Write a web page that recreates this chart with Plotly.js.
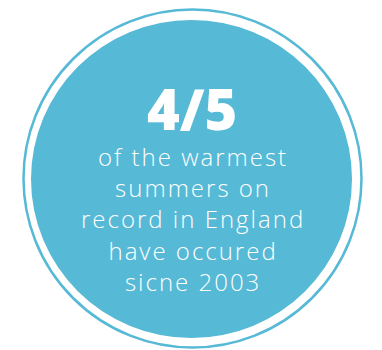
<!DOCTYPE html>
<html>
<head>
<meta charset="utf-8">
<script src="https://cdn.plot.ly/plotly-3.0.1.min.js"></script>
<style>
html,body{margin:0;padding:0;background:#fff;}
#chart{width:382px;height:350px;}
g.annotation[data-index="1"] text.annotation-text{letter-spacing:2px;}
</style>
</head>
<body>
<div id="chart"></div>
<script>
// Content of the infographic
var headline = "4/5";
var bodyLines = ["of the warmest", "summers on", "record in England", "have occured", "sicne 2003"];
var circleColor = "#56B9D6";

var layout = {
  width: 382, height: 350,
  margin: {l: 0, r: 0, t: 0, b: 0},
  paper_bgcolor: "#ffffff",
  plot_bgcolor: "#ffffff",
  showlegend: false,
  xaxis: {range: [0, 382], visible: false, fixedrange: true},
  yaxis: {range: [350, 0], visible: false, fixedrange: true},
  shapes: [
    {type: "circle", xref: "x", yref: "y", x0: 23.5, x1: 361.5, y0: 9.5, y1: 347.5,
     line: {color: circleColor, width: 2.5}, fillcolor: "rgba(0,0,0,0)"},
    {type: "circle", xref: "x", yref: "y", x0: 31, x1: 352, y0: 20, y1: 338,
     line: {width: 0}, fillcolor: circleColor}
  ],
  annotations: [
    {x: 192, y: 108, xref: "x", yref: "y", text: headline, showarrow: false,
     xanchor: "center", yanchor: "middle",
     font: {family: "Open Sans", size: 56, weight: 800, color: "#ffffff"}},
    {x: 193, y: 138, xref: "x", yref: "y", text: bodyLines.join("<br>"), showarrow: false,
     xanchor: "center", yanchor: "top", align: "center",
     font: {family: "Open Sans", size: 24, weight: 300, color: "#ffffff"}}
  ]
};

Plotly.newPlot("chart", [], layout, {staticPlot: true, displayModeBar: false});
</script>
</body>
</html>
